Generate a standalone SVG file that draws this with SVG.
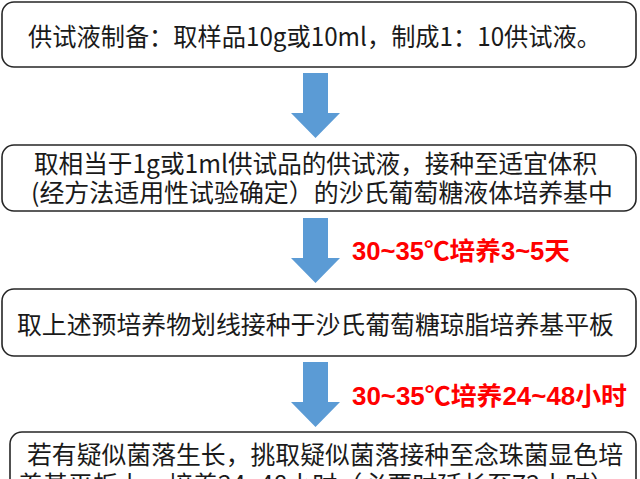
<svg xmlns="http://www.w3.org/2000/svg" width="640" height="479" viewBox="0 0 640 479">
<style>
.box{fill:#fff;stroke:#262626;stroke-width:1.6}
.t{font-family:"Noto Sans CJK SC","Liberation Sans",sans-serif;font-size:25px;fill:#1a1a1a;dominant-baseline:central}
.r{font-family:"Liberation Sans","Noto Sans CJK SC",sans-serif;font-size:25px;font-weight:bold;fill:#ff0000;dominant-baseline:central}
.arr{fill:#5b9bd5}
</style>
<defs>
<path id="arrow" class="arr" d="M303,0 H328 V40 H340 L315.5,65 L291,40 H303 Z"/>
</defs>
<rect width="640" height="479" fill="#fff"/>
<g id="connectors">
<use href="#arrow" transform="translate(0,73)"/>
<use href="#arrow" transform="translate(0,218)"/>
<use href="#arrow" transform="translate(0,362)"/>
<text class="r" x="352" y="251" textLength="218" lengthAdjust="spacingAndGlyphs">30~35℃培养3~5天</text>
<text class="r" x="352" y="396" textLength="275" lengthAdjust="spacingAndGlyphs">30~35℃培养24~48小时</text>
</g>
<g id="node1">
<rect class="box" x="2" y="2" width="634" height="65" rx="12"/>
<text class="t" x="28" y="35" textLength="573" lengthAdjust="spacingAndGlyphs">供试液制备：取样品10g或10ml，制成1：10供试液。</text>
</g>
<g id="node2">
<rect class="box" x="2" y="145" width="634" height="66" rx="12"/>
<text class="t" x="34" y="162" textLength="563" lengthAdjust="spacingAndGlyphs">取相当于1g或1ml供试品的供试液，接种至适宜体积</text>
<text class="t" x="31" y="191" textLength="582" lengthAdjust="spacingAndGlyphs">(经方法适用性试验确定）的沙氏葡萄糖液体培养基中</text>
</g>
<g id="node3">
<rect class="box" x="2" y="289" width="634" height="67" rx="12"/>
<text class="t" x="17" y="323" textLength="597" lengthAdjust="spacingAndGlyphs">取上述预培养物划线接种于沙氏葡萄糖琼脂培养基平板</text>
</g>
<g id="node4">
<rect class="box" x="10" y="432" width="626" height="80" rx="12"/>
<text class="t" x="27" y="453" textLength="596" lengthAdjust="spacingAndGlyphs">若有疑似菌落生长，挑取疑似菌落接种至念珠菌显色培</text>
<text class="t" x="18" y="483" textLength="597" lengthAdjust="spacingAndGlyphs">养基平板上，培养24~48小时（必要时延长至72小时）</text>
</g>
</svg>
